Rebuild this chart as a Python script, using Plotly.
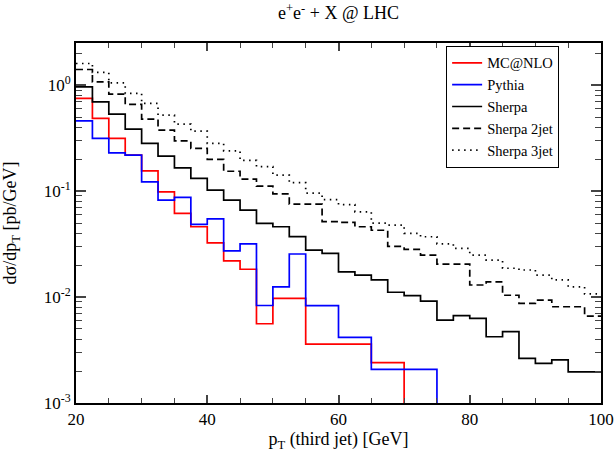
import plotly.graph_objects as go

# bin edges: 2.5 GeV bins from 20 to 100
edges = [20 + 2.5 * i for i in range(33)]

mcnlo = [0.749, 0.485, 0.314, 0.219, 0.155, 0.0985, 0.0616, 0.0461,
         0.0325, 0.0220, 0.0183, 0.0056, 0.00972, 0.00972, 0.0036, 0.0036,
         0.0036, 0.0036, 0.0024, 0.0024, 0, 0, 0, 0,
         0, 0, 0, 0, 0, 0, 0, 0]
pythia = [0.461, 0.314, 0.230, 0.219, 0.122, 0.0822, 0.0872, 0.0485,
          0.0548, 0.0273, 0.0318, 0.00832, 0.0125, 0.0255, 0.0083, 0.0083,
          0.00417, 0.00417, 0.00208, 0.00208, 0.00208, 0.00208, 0, 0,
          0, 0, 0, 0, 0, 0, 0, 0]
sherpa = [0.964, 0.696, 0.532, 0.385, 0.282, 0.214, 0.166, 0.132,
          0.102, 0.0822, 0.0662, 0.0496, 0.0461, 0.0372, 0.0277, 0.0258,
          0.0173, 0.0161, 0.0145, 0.0111, 0.0103, 0.00917, 0.00607, 0.00669,
          0.0063, 0.00422, 0.00471, 0.00264, 0.00237, 0.00255, 0.00197, 0.00197]
sherpa_2jet = [1.406, 1.074, 0.822, 0.658, 0.478, 0.376, 0.298, 0.253,
               0.199, 0.154, 0.130, 0.1115, 0.0943, 0.0754, 0.0752, 0.0516,
               0.0507, 0.0461, 0.0427, 0.0301, 0.0282, 0.0249, 0.0205, 0.0205,
               0.0130, 0.0139, 0.0104, 0.00873, 0.00937, 0.0081, 0.0081, 0.00662]
sherpa_3jet = [1.602, 1.318, 1.051, 0.835, 0.672, 0.521, 0.429, 0.368,
               0.282, 0.240, 0.195, 0.170, 0.1416, 0.120, 0.0958, 0.0830,
               0.0746, 0.0638, 0.0499, 0.0478, 0.0399, 0.0371, 0.0318, 0.0288,
               0.0249, 0.0223, 0.0187, 0.0180, 0.0161, 0.0145, 0.0125, 0.0107]

y_ticks = [1e-3, 1e-2, 1e-1, 1]
y_ticktext = ["10<sup>-3</sup>", "10<sup>-2</sup>", "10<sup>-1</sup>", "10<sup>0</sup>"]

FONT = "Liberation Serif"


def step(vals):
    # empty bins drop below the axis
    ys = [v if v > 0 else 1e-6 for v in vals]
    return edges, ys + [ys[-1]]


series = [
    ("MC@NLO", mcnlo, "#ff0000", "solid"),
    ("Pythia", pythia, "#0000ff", "solid"),
    ("Sherpa", sherpa, "black", "solid"),
    ("Sherpa 2jet", sherpa_2jet, "black", "7px,4px"),
    ("Sherpa 3jet", sherpa_3jet, "black", "1.5px,4.5px"),
]

fig = go.Figure()
for name, vals, col, dash in series:
    x, y = step(vals)
    fig.add_trace(go.Scatter(
        x=x, y=y, mode="lines", name=name,
        line=dict(color=col, width=1.7, dash=dash, shape="hv"),
    ))

minor_y = [m * 10 ** e for e in range(-3, 1) for m in range(2, 10)]

fig.update_layout(
    width=614, height=457,
    margin=dict(l=76, r=13, t=43, b=54),
    paper_bgcolor="white", plot_bgcolor="white",
    font=dict(family=FONT, size=17, color="black"),
    title=dict(text="e<sup>+</sup>e<sup>-</sup> + X @ LHC", x=338.5 / 614, xanchor="center",
               yref="container", y=0.985, yanchor="top",
               font=dict(family=FONT, size=18)),
    showlegend=True,
    legend=dict(x=0.705, y=0.992, xanchor="left", yanchor="top",
                bgcolor="white", bordercolor="black", borderwidth=1,
                font=dict(family=FONT, size=14.5), itemwidth=30,
                tracegroupgap=0),
    xaxis=dict(range=[20, 100], tickvals=[20, 40, 60, 80, 100],
               ticks="inside", ticklen=8, tickwidth=1.5, mirror="ticks",
               showline=True, linecolor="black", linewidth=2, showgrid=False,
               zeroline=False, automargin=False, ticklabeloverflow="allow",
               minor=dict(tickvals=[25, 30, 35, 45, 50, 55, 65, 70, 75, 85, 90, 95],
                          ticks="inside", ticklen=5, tickwidth=1.2, showgrid=False),
               title=dict(text="p<sub>T</sub> (third jet) [GeV]", standoff=3,
                          font=dict(family=FONT, size=18))),
    yaxis=dict(type="log", range=[-3, 0.398], tickvals=y_ticks, ticktext=y_ticktext,
               ticks="inside", ticklen=10, tickwidth=1.5, mirror="ticks",
               showline=True, linecolor="black", linewidth=2, showgrid=False,
               zeroline=False, automargin=False,
               minor=dict(tickvals=minor_y, ticks="inside", ticklen=6, tickwidth=1.2,
                          showgrid=False),
               title=dict(text="dσ/dp<sub>T</sub> [pb/GeV]", standoff=30,
                          font=dict(family=FONT, size=18))),
)

# drop the default page margin so the figure fills the window exactly
fig.write_html("out.html", config={"displayModeBar": False},
               post_script="document.body.style.margin = '0';")
